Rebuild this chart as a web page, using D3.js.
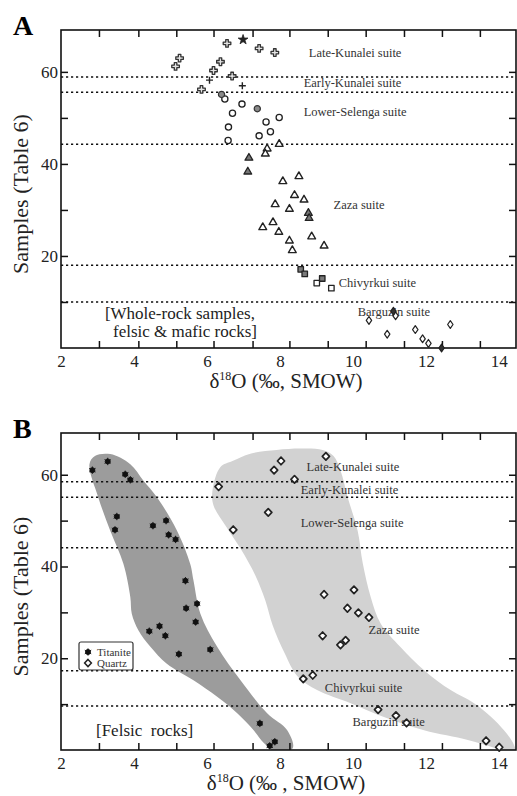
<!DOCTYPE html>
<html>
<head>
<meta charset="utf-8">
<script src="https://cdn.jsdelivr.net/npm/d3@7"></script>
<style>
  body { margin: 0; background: #fff; }
  svg { display: block; font-family: "Liberation Serif", "Times New Roman", serif; }
</style>
</head>
<body>
<svg id="chart" width="517" height="796"></svg>
<script>
// Axis ticks (δ18O, ‰) and sample numbers
const xTickLabels = [2, 4, 6, 8, 10, 12, 14]
const xMinorTicks = [3.04, 4.12, 5.16, 6.18, 7.25, 8.26, 9.31, 10.35, 11.4, 12.44, 13.48]
const yTicks = [10, 20, 30, 40, 50, 60]
const yTickLabels = [20, 40, 60]

// Suite boundaries (sample number) drawn as dotted lines
const boundsA = [58.9, 55.6, 44.3, 18.0, 10.0]
const boundsB = [58.5, 55.1, 44.1, 17.3, 9.6]

const suites = ["Late-Kunalei suite", "Early-Kunalei suite", "Lower-Selenga suite",
  "Zaza suite", "Chivyrkui suite", "Barguzin suite"]
const suiteAnchorsA = [[8.79, 64.1], [8.65, 57.6], [8.65, 51.3], [9.47, 31.1], [9.61, 14.3], [10.13, 8.0]]
const suiteAnchorsB = [[8.73, 61.7], [8.57, 56.7], [8.57, 49.6], [10.43, 26.3], [9.23, 13.7], [9.99, 6.1]]

// Panel A: whole-rock samples [δ18O, sample]
const lateKunalei = [[5.14, 61.2], [5.25, 63.0], [6.55, 66.2], [7.43, 65.1], [7.86, 64.2],
  [6.37, 62.2], [6.18, 60.3], [6.69, 59.1], [5.85, 56.2]]
const lateKunaleiStar = [[6.99, 67.0]]
const earlyKunalei = [[6.07, 58.2], [6.97, 57.0]]
const selengaOpen = [[6.49, 54.1], [6.96, 53.0], [6.70, 51.0], [7.98, 50.1], [7.62, 49.1],
  [6.59, 48.0], [7.74, 47.0], [7.43, 46.1], [6.58, 45.1]]
const selengaGray = [[6.40, 55.1], [7.38, 52.0]]
const zazaOpen = [[7.98, 44.3], [7.65, 43.3], [7.60, 42.2], [8.08, 36.2], [8.52, 37.3],
  [8.40, 33.2], [8.66, 32.2], [7.87, 31.2], [8.26, 30.2], [7.81, 27.3], [7.53, 26.2],
  [7.97, 25.2], [8.87, 24.2], [8.26, 23.3], [9.21, 22.2], [8.34, 21.2]]
const zazaGray = [[7.15, 41.3], [7.12, 38.3], [8.78, 29.3], [8.80, 28.2]]
const chivyrkuiOpen = [[9.01, 14.1], [9.41, 13.0]]
const chivyrkuiGray = [[8.57, 17.1], [8.68, 16.1], [9.16, 15.1]]
const barguzinOpen = [[10.44, 6.0], [10.94, 3.0], [11.17, 7.0], [11.71, 4.0], [11.91, 2.0],
  [12.07, 1.0], [12.67, 5.1]]
const barguzinDark = [[11.11, 8.0], [12.43, 0.0]]

// Panel B: mineral separates from felsic rocks
const titanite = [[2.86, 61.0], [3.28, 62.9], [3.76, 60.1], [3.90, 58.9], [3.53, 50.9],
  [3.48, 48.0], [4.52, 48.9], [4.88, 50.0], [4.95, 46.9], [5.14, 45.9], [5.41, 36.9],
  [5.73, 31.9], [5.43, 30.9], [5.69, 27.9], [4.42, 25.9], [4.70, 27.0], [4.86, 24.9],
  [5.23, 20.9], [6.09, 21.9], [7.45, 5.8], [7.72, 0.9], [7.86, 1.8]]
const quartz = [[6.32, 57.4], [6.72, 48.0], [7.68, 51.8], [7.84, 61.0], [8.03, 63.0],
  [9.26, 64.0], [8.40, 59.0], [9.21, 33.9], [10.03, 34.9], [9.85, 30.9], [10.15, 29.9],
  [10.44, 28.9], [9.17, 24.9], [9.66, 22.9], [9.80, 23.9], [8.64, 15.5], [8.90, 16.3],
  [10.69, 8.8], [11.18, 7.5], [11.47, 5.9], [13.65, 2.0], [14.01, 0.6]]

// Outlines of the shaded fields in panel B
const titaniteField = [[2.78, 62.3], [3.02, 55.1], [3.35, 47.8], [3.71, 40.6], [3.90, 33.3],
  [3.94, 29.7], [4.12, 26.1], [4.45, 22.5], [4.90, 18.8], [5.63, 15.2], [6.28, 11.6],
  [6.83, 8.0], [7.28, 4.3], [7.56, 1.5], [7.88, -0.4], [8.35, 0.4], [8.20, 4.3],
  [7.65, 8.0], [6.92, 15.2], [6.28, 22.5], [5.82, 29.7], [5.63, 37.0], [5.54, 40.6],
  [5.18, 47.8], [4.63, 55.1], [4.26, 58.7], [3.90, 62.3], [3.35, 64.5], [2.93, 64.1]]
const quartzField = [[6.37, 61.7], [6.15, 56.5], [6.18, 53.3], [6.51, 48.9], [6.92, 43.9],
  [7.33, 38.0], [7.60, 32.6], [7.80, 27.2], [8.13, 21.1], [8.48, 16.1], [9.03, 13.0],
  [9.94, 10.2], [10.85, 7.2], [11.95, 4.3], [13.15, 2.2], [13.79, 0.7], [14.17, -0.4],
  [14.45, -0.4], [14.39, 1.5], [14.14, 4.3], [13.79, 7.2], [13.32, 10.2], [12.69, 13.0],
  [11.95, 17.4], [11.31, 22.4], [10.76, 27.6], [10.49, 33.3], [10.27, 40.7], [10.13, 47.8],
  [9.86, 55.0], [9.66, 60.9], [9.47, 64.1], [9.17, 65.4], [8.57, 65.7], [7.91, 65.4],
  [7.19, 64.6], [6.70, 63.0]]

const LEFT = 61
const RIGHT = 516
const X_DOMAIN = [2, 14.47]
const Y_DOMAIN = [0, 69.1]

const svg = d3.select("#chart")

const x = d3.scaleLinear().domain(X_DOMAIN).range([LEFT, RIGHT])

const diamondPath = (w, h) => `M0,${-h}L${w},0L0,${h}L${-w},0Z`

function makePanel(top, bottom, letter, bounds, anchors) {
  const y = d3.scaleLinear().domain(Y_DOMAIN).range([bottom, top])
  const g = svg.append("g")

  g.append("clipPath").attr("id", "clip" + letter)
    .append("rect")
    .attr("x", LEFT).attr("y", top)
    .attr("width", RIGHT - LEFT).attr("height", bottom - top)

  const layer = g.append("g").attr("clip-path", `url(#clip${letter})`)

  // ticks pointing inward on all four sides
  const tick = 7
  g.append("g").attr("transform", `translate(0,${bottom})`)
    .call(d3.axisTop(x).tickValues(xMinorTicks).tickSize(tick).tickFormat(""))
  g.append("g").attr("transform", `translate(0,${top})`)
    .call(d3.axisBottom(x).tickValues(xMinorTicks).tickSize(tick).tickFormat(""))
  g.append("g").attr("transform", `translate(${LEFT},0)`)
    .call(d3.axisRight(y).tickValues(yTicks).tickSize(tick).tickFormat(""))
  g.append("g").attr("transform", `translate(${RIGHT},0)`)
    .call(d3.axisLeft(y).tickValues(yTicks).tickSize(tick).tickFormat(""))

  // tick labels
  g.append("g").attr("class", "lab").attr("transform", `translate(0,${bottom})`)
    .call(d3.axisBottom(x).tickValues(xTickLabels).tickSize(0).tickPadding(6.5).tickFormat(d3.format("d")))
  g.append("g").attr("class", "lab").attr("transform", `translate(${LEFT},0)`)
    .call(d3.axisLeft(y).tickValues(yTickLabels).tickSize(0).tickPadding(3).tickFormat(d3.format("d")))

  g.selectAll(".domain").remove()
  g.selectAll(".tick line").attr("stroke", "#111").attr("stroke-width", 1.5)
  g.selectAll(".lab").attr("font-family", null)
  g.selectAll(".lab text")
    .attr("font-size", 17)
    .attr("fill", "#222")

  // frame
  g.append("rect")
    .attr("x", LEFT).attr("y", top)
    .attr("width", RIGHT - LEFT).attr("height", bottom - top)
    .attr("fill", "none").attr("stroke", "#111").attr("stroke-width", 1.6)

  // panel letter
  g.append("text")
    .attr("x", 13).attr("y", top + 5)
    .attr("font-size", 28).attr("font-weight", "bold")
    .text(letter)

  // y title
  g.append("text")
    .attr("transform", `translate(28,${(top + bottom) / 2 + 5}) rotate(-90)`)
    .attr("text-anchor", "middle")
    .attr("font-size", 22).attr("fill", "#222")
    .text("Samples (Table 6)")

  // x title
  const xt = g.append("text")
    .attr("x", 286).attr("y", bottom + 40)
    .attr("text-anchor", "middle")
    .attr("font-size", 21).attr("fill", "#222")
  xt.append("tspan").text("δ")
  xt.append("tspan").attr("font-size", 12).attr("dy", -8).text("18")
  xt.append("tspan").attr("dy", 8).text(letter === "A" ? "O (‰, SMOW)" : "O (‰ , SMOW)")

  return { g, layer, y, bounds, anchors }
}

function drawBounds(p) {
  p.layer.selectAll(".bound").data(p.bounds).join("line")
    .attr("class", "bound")
    .attr("x1", LEFT).attr("x2", RIGHT)
    .attr("y1", (d) => p.y(d)).attr("y2", (d) => p.y(d))
    .attr("stroke", "#111").attr("stroke-width", 1.5)
    .attr("stroke-dasharray", "2.2,2.8")
}

function drawSuiteLabels(p) {
  p.g.selectAll(".suite").data(suites).join("text")
    .attr("class", "suite")
    .attr("x", (d, i) => x(p.anchors[i][0]))
    .attr("y", (d, i) => p.y(p.anchors[i][1]))
    .attr("dy", "0.35em")
    .attr("font-size", 12.5).attr("fill", "#333")
    .text((d) => d)
}

function points(p, data, pathFn, fill, stroke, sw) {
  p.g.append("g").selectAll("path").data(data).join("path")
    .attr("transform", (d) => `translate(${x(d[0])},${p.y(d[1])})`)
    .attr("d", pathFn)
    .attr("fill", fill).attr("stroke", stroke).attr("stroke-width", sw)
    .attr("stroke-linejoin", "round")
}

const sym = (type, size) => d3.symbol().type(type).size(size)()

// ---------- Panel A ----------
const A = makePanel(30, 348, "A", boundsA, suiteAnchorsA)
drawBounds(A)
drawSuiteLabels(A)

A.g.append("text")
  .attr("x", 255).attr("y", 319)
  .attr("text-anchor", "end")
  .attr("font-size", 17).attr("fill", "#222")
  .text("[Whole-rock samples,")
A.g.append("text")
  .attr("x", 257).attr("y", 337)
  .attr("text-anchor", "end")
  .attr("font-size", 17).attr("fill", "#222")
  .text("felsic & mafic rocks]")

points(A, lateKunalei, sym(d3.symbolCross, 32), "#e4e4e4", "#333", 1.3)
points(A, lateKunaleiStar, sym(d3.symbolStar, 30), "#222", "#222", 0.8)
points(A, earlyKunalei, "M-3.5,0H3.5M0,-3.5V3.5", "none", "#222", 1.4)
points(A, selengaOpen, sym(d3.symbolCircle, 30), "#fff", "#222", 1.3)
points(A, selengaGray, sym(d3.symbolCircle, 30), "#8a8a8a", "#333", 1.2)
points(A, zazaOpen, sym(d3.symbolTriangle, 26), "#fff", "#222", 1.4)
points(A, zazaGray, sym(d3.symbolTriangle, 26), "#777", "#222", 1.3)
points(A, chivyrkuiOpen, sym(d3.symbolSquare, 30), "#fff", "#222", 1.3)
points(A, chivyrkuiGray, sym(d3.symbolSquare, 30), "#7a7a7a", "#222", 1.3)
points(A, barguzinOpen, diamondPath(2.7, 3.9), "#fff", "#222", 1.2)
points(A, barguzinDark, diamondPath(2.7, 3.9), "#333", "#222", 1.2)

// ---------- Panel B ----------
const B = makePanel(433, 750, "B", boundsB, suiteAnchorsB)

const field = d3.line()
  .x((d) => x(d[0]))
  .y((d) => B.y(d[1]))
  .curve(d3.curveCatmullRomClosed.alpha(0.5))

B.layer.append("path").attr("d", field(quartzField)).attr("fill", "#d2d2d2")
B.layer.append("path").attr("d", field(titaniteField)).attr("fill", "#9c9c9c")
drawBounds(B)
drawSuiteLabels(B)

B.g.append("text")
  .attr("x", 96).attr("y", 736)
  .attr("font-size", 17).attr("fill", "#222")
  .style("white-space", "pre")
  .text("[Felsic  rocks]")

const titanitePath = sym(d3.symbolCircle, 20) + sym(d3.symbolAsterisk, 38)
points(B, titanite, titanitePath, "#111", "#111", 0.9)
points(B, quartz, diamondPath(3.6, 3.8), "#fff", "#222", 1.7)

// legend
const lg = B.g.append("g").attr("transform", "translate(79,642)")
lg.append("rect")
  .attr("width", 54).attr("height", 28).attr("rx", 2)
  .attr("fill", "#fff").attr("stroke", "#333").attr("stroke-width", 1.2)
lg.append("path").attr("transform", "translate(9,10)")
  .attr("d", titanitePath).attr("fill", "#111").attr("stroke", "#111").attr("stroke-width", 0.9)
lg.append("path").attr("transform", "translate(9,21)")
  .attr("d", diamondPath(3.4, 3.6)).attr("fill", "#fff").attr("stroke", "#222").attr("stroke-width", 1.5)
lg.append("text").attr("x", 18).attr("y", 10).attr("dy", "0.35em")
  .attr("font-size", 11).attr("fill", "#333").text("Titanite")
lg.append("text").attr("x", 18).attr("y", 21).attr("dy", "0.35em")
  .attr("font-size", 11).attr("fill", "#333").text("Quartz")
</script>
</body>
</html>
